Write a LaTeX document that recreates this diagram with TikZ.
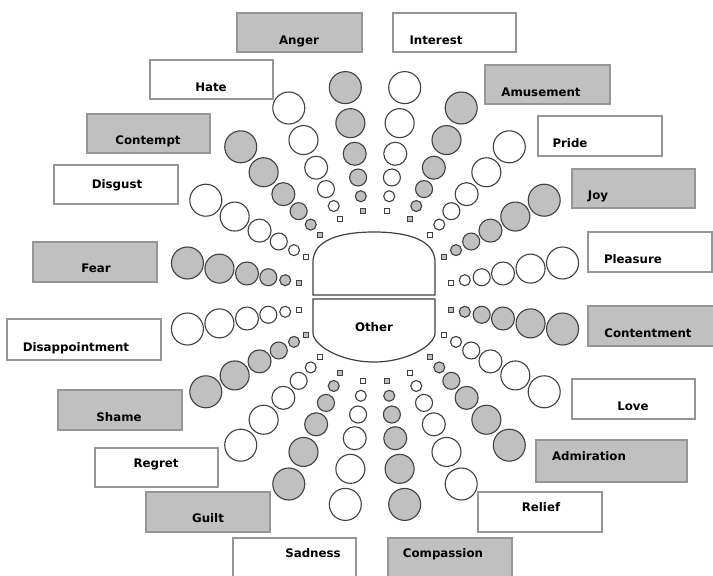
\documentclass[tikz,border=0pt]{standalone}
\usepackage{fontspec}
\setmainfont{DejaVu Sans}
\definecolor{wheelgray}{RGB}{192,192,192}
\definecolor{rimgray}{RGB}{64,64,64}
\definecolor{boxline}{RGB}{150,150,150}
\tikzset{
	bead/.style={draw=rimgray,line width=1.1pt},
	tick/.style={draw=rimgray,line width=0.9pt},
	emobox/.style={draw=boxline,line width=1.1pt},
	emotext/.style={font=\fontsize{11.8}{14}\selectfont\bfseries,anchor=base,inner sep=0pt},
	hub/.style={draw=rimgray,line width=1.2pt,fill=white}
}
\begin{document}
\begin{tikzpicture}[x=1pt,y=-1pt]
			\useasboundingbox[fill=white] (0,0) rectangle (713,576);
			
			\foreach \name/\xa/\ya/\xb/\yb/\col/\tx/\ty in {
				Anger/237/13/362/52/wheelgray/299/44,
				Interest/393/13/516/52/white/436/44,
				Hate/150/60/273/99/white/211/91,
				Amusement/485/65/610/104/wheelgray/541/96,
				Contempt/87/114/210/153/wheelgray/148/144,
				Pride/538/116/662/156/white/570/147,
				Disgust/54/165/178/204/white/117/188,
				Joy/572/169/695/208/wheelgray/598/199,
				Fear/33/242/157/282/wheelgray/96/272,
				Pleasure/588/232/712/272/white/633/263,
				Disappointment/7/319/161/360/white/76/351,
				Contentment/588/306/716/346/wheelgray/648/337,
				Shame/58/390/182/430/wheelgray/119/421,
				Love/572/379/695/419/white/633/410,
				Regret/95/448/218/487/white/156/467,
				Admiration/536/440/687/482/wheelgray/589/460,
				Guilt/146/492/270/532/wheelgray/208/522,
				Relief/478/492/602/532/white/541/511,
				Sadness/233/538/356/580/white/313/557,
				Compassion/388/538/512/580/wheelgray/443/557}
			{
				\draw[emobox,fill=\col] (\xa,\ya) rectangle (\xb,\yb);
				\node[emotext] (\name) at (\tx,\ty) {\name};
			}
			
			\foreach \col [count=\i from 0] in {white,wheelgray}
			\foreach \b in {0,36,...,324}{
				\pgfmathsetmacro\a{9+18*\i+\b}
				\foreach \d/\r in {211/16,175/14.5,144/11.5,120/8.5,101/5.5}
					\draw[bead,fill=\col] ({375+0.9*\d*cos(\a)},{296-\d*sin(\a)}) circle (\r pt);
				\draw[tick,fill=\col] ({375+0.9*86*cos(\a)},{296-86*sin(\a)}) ++(-2.5,-2.5) rectangle ++(5,5);
			}
			
			\draw[hub] (313,295) -- (313,262) .. controls (313,240) and (340,232) .. (374,232)
				.. controls (408,232) and (435,240) .. (435,262) -- (435,295) -- cycle;
			\draw[hub] (313,299) -- (313,333) .. controls (313,345) and (340,362) .. (374,362)
				.. controls (408,362) and (435,345) .. (435,333) -- (435,299) -- cycle;
			\node[emotext] (other) at (374,331) {Other};
		\end{tikzpicture}
\end{document}
